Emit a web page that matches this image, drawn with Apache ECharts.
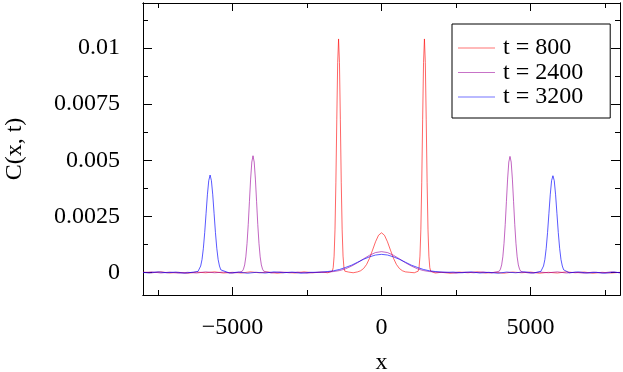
<!DOCTYPE html>
<html>
<head>
<meta charset="utf-8">
<script src="https://cdn.jsdelivr.net/npm/echarts@6/dist/echarts.min.js"></script>
<style>
html,body{margin:0;padding:0;background:#fff;}
#chart{width:623px;height:372px;}
</style>
</head>
<body>
<div id="chart"></div>
<script>
// ---- data ----
const seriesNames = ['t = 800', 't = 2400', 't = 3200'];

const t800X = [-8000,-7700,-7400,-7100,-6800,-6500,-6200,-5900,-5600,-5300,-5000,-4700,-4400,-4100,-3800,-3500,-3200,-2900,-2600,-2300,-2000,-1800,
  -1650,-1620,-1590,-1560,-1530,-1500,-1470,-1440,-1410,-1380,-1350,-1320,-1290,-1260,-1230,
  -1100,-950,-800,-700,-600,-500,-400,-300,-200,-100,0,100,200,300,400,500,600,700,800,950,1100,
  1230,1260,1290,1320,1350,1380,1410,1440,1470,1500,1530,1560,1590,1620,1650,
  1800,2000,2300,2600,2900,3200,3500,3800,4100,4400,4700,5000,5300,5600,5900,6200,6500,6800,7100,7400,7700,8000];
const t800Y = [2e-5,-1e-5,3e-5,-2e-5,1e-5,-3e-5,2e-5,-1e-5,3e-5,-2e-5,1e-5,-2e-5,3e-5,-1e-5,2e-5,-3e-5,1e-5,-2e-5,3e-5,-1e-5,2e-5,-1e-5,
  0.00006,0.00022,0.00073,0.0019,0.0040,0.0068,0.00935,0.0104,0.00935,0.0068,0.0040,0.0019,0.00073,0.00022,0.00006,
  2e-5,-1e-5,0.00003,0.00008,0.00018,0.00036,0.00064,0.00100,0.00137,0.00166,0.00177,0.00166,0.00137,0.00100,0.00064,0.00036,0.00018,0.00008,0.00003,1e-5,-1e-5,
  0.00006,0.00022,0.00073,0.0019,0.0040,0.0068,0.00935,0.0104,0.00935,0.0068,0.0040,0.0019,0.00073,0.00022,0.00006,
  -2e-5,1e-5,-3e-5,2e-5,-1e-5,3e-5,-2e-5,1e-5,-3e-5,2e-5,-1e-5,2e-5,-3e-5,1e-5,-2e-5,3e-5,-1e-5,2e-5,-3e-5,1e-5,-2e-5,1e-5];

const t2400X = [-8000,-7700,-7400,-7100,-6800,-6500,-6200,-5900,-5600,-5300,-5000,-4750,
  -4670,-4630,-4590,-4550,-4510,-4470,-4430,-4390,-4350,-4310,-4270,-4230,-4190,-4150,-4110,-4070,-4030,-3990,-3950,
  -3700,-3400,-3100,-2800,-2500,-2200,
  -2000,-1800,-1600,-1400,-1200,-1000,-800,-600,-400,-200,0,200,400,600,800,1000,1200,1400,1600,1800,2000,
  2200,2500,2800,3100,3400,3700,
  3950,3990,4030,4070,4110,4150,4190,4230,4270,4310,4350,4390,4430,4470,4510,4550,4590,4630,4670,
  4750,5000,5300,5600,5900,6200,6500,6800,7100,7400,7700,8000];
const t2400Y = [-1e-5,3e-5,-2e-5,2e-5,-3e-5,1e-5,-2e-5,3e-5,-1e-5,2e-5,-3e-5,2e-5,
  0.00006,0.00015,0.00034,0.0007,0.0013,0.00214,0.00316,0.00416,0.00492,0.0052,0.00492,0.00416,0.00316,0.00214,0.0013,0.0007,0.00034,0.00015,0.00006,
  -2e-5,3e-5,-1e-5,2e-5,-3e-5,1e-5,
  0.00001,0.00002,0.000045,0.00009,0.00017,0.00029,0.00044,0.00061,0.00077,0.00089,0.00093,0.00089,0.00077,0.00061,0.00044,0.00029,0.00017,0.00009,0.000045,0.00002,0.00001,
  1e-5,-3e-5,2e-5,-1e-5,3e-5,-2e-5,
  0.00006,0.00015,0.00034,0.0007,0.0013,0.00214,0.00316,0.00416,0.00492,0.00517,0.00492,0.00416,0.00316,0.00214,0.0013,0.0007,0.00034,0.00015,0.00006,
  2e-5,-3e-5,2e-5,-1e-5,3e-5,-2e-5,1e-5,-3e-5,2e-5,-2e-5,3e-5,-1e-5];

const t3200X = [-8000,-7800,-7500,-7200,-6900,-6600,-6300,
  -6155,-6110,-6065,-6020,-5975,-5930,-5885,-5840,-5795,-5750,-5705,-5660,-5615,-5570,-5525,-5480,-5435,-5390,-5345,
  -5100,-4800,-4500,-4200,-3900,-3600,-3300,-3000,-2700,-2400,
  -2200,-2000,-1800,-1600,-1400,-1200,-1000,-800,-600,-400,-200,0,200,400,600,800,1000,1200,1400,1600,1800,2000,2200,
  2400,2700,3000,3300,3600,3900,4200,4500,4800,5100,
  5345,5390,5435,5480,5525,5570,5615,5660,5705,5750,5795,5840,5885,5930,5975,6020,6065,6110,6155,
  6300,6600,6900,7200,7500,7800,8000];
const t3200Y = [1e-5,-2e-5,3e-5,-1e-5,2e-5,-3e-5,2e-5,
  0.00005,0.00012,0.00029,0.00058,0.00108,0.00178,0.00262,0.00346,0.00409,0.00434,0.00409,0.00346,0.00262,0.00178,0.00108,0.00058,0.00029,0.00012,0.00005,
  -2e-5,2e-5,-3e-5,1e-5,-2e-5,3e-5,-1e-5,2e-5,-3e-5,1e-5,
  0.00001,0.000023,0.000045,0.00008,0.00014,0.00023,0.00033,0.00046,0.00059,0.00070,0.00078,0.00081,0.00078,0.00070,0.00059,0.00046,0.00033,0.00023,0.00014,0.00008,0.000045,0.000023,0.00001,
  2e-5,-1e-5,3e-5,-2e-5,1e-5,-3e-5,2e-5,-1e-5,3e-5,-2e-5,
  0.00005,0.00012,0.00029,0.00058,0.00108,0.00178,0.00262,0.00346,0.00409,0.00431,0.00409,0.00346,0.00262,0.00178,0.00108,0.00058,0.00029,0.00012,0.00005,
  -1e-5,3e-5,-2e-5,1e-5,-3e-5,2e-5,-1e-5];

const xMajorTicks = [-5000, 0, 5000];
const xMinorTicks = [-7500, -2500, 2500, 7500];
const yMajorTicks = [0, 0.0025, 0.005, 0.0075, 0.01];
const yMinorTicks = [0.00125, 0.00375, 0.00625, 0.00875, 0.01125];

// ---- chart ----
const FONT = 'Liberation Serif';
const zip = (xs, ys) => xs.map((x, i) => [x, ys[i]]);
const xr = {min: -8000, max: 8000};
const yr = {min: -0.001, max: 0.012};

function xAx(pos, ticks, len, labels, extra) {
  return Object.assign({
    type: 'value', position: pos, min: xr.min, max: xr.max,
    axisLine: {show: true, onZero: false, lineStyle: {color: '#000', width: 1}},
    axisTick: {show: true, inside: true, length: len, customValues: ticks, lineStyle: {color: '#000', width: 1}},
    axisLabel: labels ? {show: true, customValues: ticks, margin: 21, fontFamily: FONT, fontSize: 24, color: '#000',
      formatter: v => v < 0 ? '\u2212' + (-v) : String(v)} : {show: false},
    splitLine: {show: false}
  }, extra || {});
}
function yAx(pos, ticks, len, labels, extra) {
  return Object.assign({
    type: 'value', position: pos, min: yr.min, max: yr.max,
    axisLine: {show: true, onZero: false, lineStyle: {color: '#000', width: 1}},
    axisTick: {show: true, inside: true, length: len, customValues: ticks, lineStyle: {color: '#000', width: 1}},
    axisLabel: labels ? {show: true, customValues: ticks, margin: 23, fontFamily: FONT, fontSize: 24, color: '#000'} : {show: false},
    splitLine: {show: false}
  }, extra || {});
}

const chart = echarts.init(document.getElementById('chart'), null, {renderer: 'canvas'});
const colors = ['#ff0000', '#990099', '#0000ff'];
chart.setOption({
  animation: false,
  backgroundColor: '#fff',
  textStyle: {fontFamily: FONT},
  grid: {left: 143, right: 3, top: 3, bottom: 77, containLabel: false, outerBoundsMode: 'none'},
  xAxis: [
    xAx('bottom', xMajorTicks, 8, true, {name: 'x', nameLocation: 'middle', nameGap: 56,
      nameTextStyle: {fontFamily: FONT, fontSize: 24, color: '#000'}}),
    xAx('bottom', xMinorTicks, 5, false),
    xAx('top', xMajorTicks, 8, false),
    xAx('top', xMinorTicks, 5, false)
  ],
  yAxis: [
    yAx('left', yMajorTicks, 9, true, {name: 'C(x, t)', nameLocation: 'middle', nameGap: 116,
      nameTextStyle: {fontFamily: FONT, fontSize: 24, color: '#000'}}),
    yAx('left', yMinorTicks, 5, false),
    yAx('right', yMajorTicks, 9, false),
    yAx('right', yMinorTicks, 5, false)
  ],
  legend: {
    show: true, orient: 'vertical', left: 452, top: 24,
    padding: [12, 27, 9, 6], itemGap: 0.5, itemWidth: 37, itemHeight: 1, icon: 'rect',
    itemStyle: {opacity: 0.55},
    backgroundColor: '#fff', borderColor: '#000', borderWidth: 1, borderRadius: 0,
    textStyle: {fontFamily: FONT, fontSize: 24, lineHeight: 24, color: '#000', padding: [0, 0, 0, 3]},
    data: seriesNames
  },
  series: [
    {name: seriesNames[0], type: 'line', data: zip(t800X, t800Y), xAxisIndex: 0, yAxisIndex: 0,
     symbol: 'none', lineStyle: {color: colors[0], width: 1, opacity: 0.6}, itemStyle: {color: colors[0]}},
    {name: seriesNames[1], type: 'line', data: zip(t2400X, t2400Y), xAxisIndex: 0, yAxisIndex: 0,
     symbol: 'none', lineStyle: {color: colors[1], width: 1, opacity: 0.6}, itemStyle: {color: colors[1]}},
    {name: seriesNames[2], type: 'line', data: zip(t3200X, t3200Y), xAxisIndex: 0, yAxisIndex: 0,
     symbol: 'none', lineStyle: {color: colors[2], width: 1, opacity: 0.65}, itemStyle: {color: colors[2]}}
  ]
});
</script>
</body>
</html>
